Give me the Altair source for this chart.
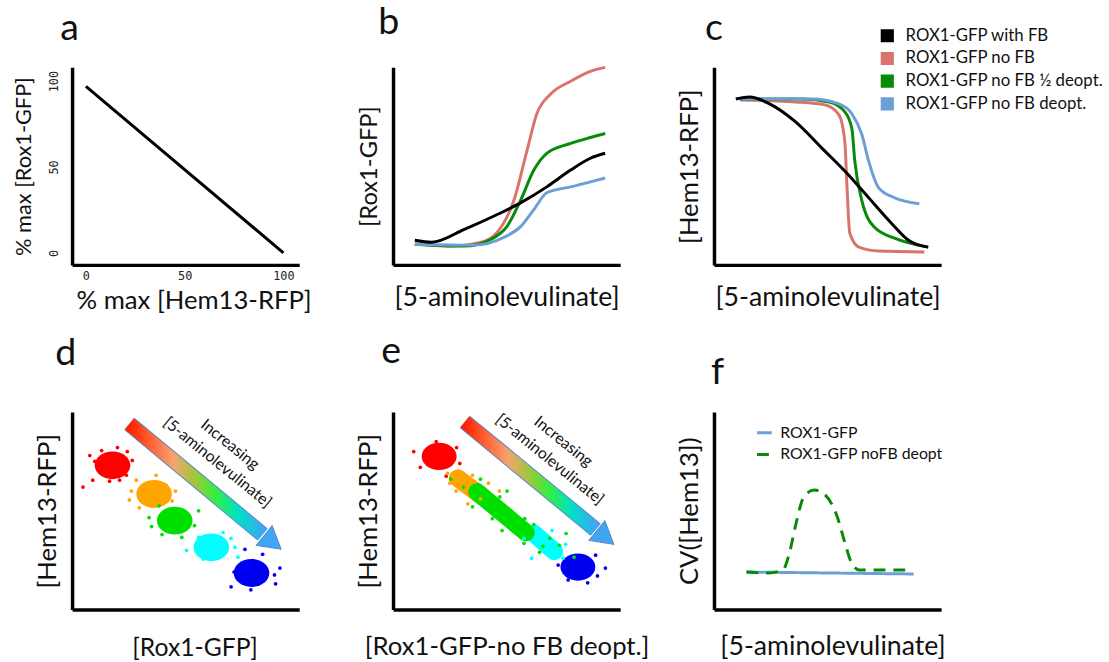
import altair as alt
import pandas as pd

FONT = "Lato"

# ---------------- panel a ----------------
a_x = [0, 100]
a_y = [97, 0]
a_ticks = [0, 50, 100]

# ---------------- panels b, c ----------------
series_names = ["ROX1-GFP with FB", "ROX1-GFP no FB", "ROX1-GFP no FB ½ deopt.", "ROX1-GFP no FB deopt."]
series_colors = ["#000000", "#d9736b", "#078a07", "#6b9fd6"]

b_red_x = [9.6, 24, 38.9, 45.9, 53.3, 59, 63.3, 69.4, 78.2, 86.9, 93.4]
b_red_y = [10.5, 9.5, 11.5, 16.5, 33, 58, 76.5, 86.5, 93, 98, 100]
b_green_x = [9.6, 31.4, 43.2, 50.2, 56.3, 62, 67.7, 78.2, 86.9, 93.4]
b_green_y = [10.5, 9.5, 13, 19.5, 33, 48, 56.5, 61.5, 64.5, 66.5]
b_blue_x = [9.6, 35.8, 48.9, 56.3, 62, 67.7, 78.2, 86.9, 93.4]
b_blue_y = [10.5, 10, 14, 19.5, 28, 36.5, 39.5, 42, 44]
b_black_x = [9.6, 17, 31.4, 45.9, 56.3, 67.7, 78.2, 86.9, 93.4]
b_black_y = [12.5, 11.5, 18, 25.5, 31.5, 39.5, 48, 54, 56.5]

c_red_x = [11.4, 35.8, 48.9, 55, 57.6, 58.5, 59.8, 63.8, 72.5, 92.6]
c_red_y = [83.5, 82.5, 81, 76, 62.5, 41, 16, 9, 7, 6.5]
c_green_x = [11.4, 38.9, 50.7, 57.6, 60.7, 62, 65.1, 70.7, 79.5, 94.3]
c_green_y = [84, 84, 82.5, 77.5, 69, 52.5, 32.5, 19, 13.5, 9]
c_blue_x = [11.4, 43.2, 55, 60.7, 65.1, 68.1, 72.5, 79.5, 90.4]
c_blue_y = [84, 84, 81.5, 76.5, 66, 52.5, 39, 34, 31]
c_black_x = [9.6, 15.7, 24.5, 35.8, 47.6, 57.6, 68.1, 78.2, 85.6, 94.3]
c_black_y = [84, 85, 81.5, 72.5, 59, 47.5, 34, 21, 12.5, 9]

# ---------------- panels d, e ----------------
levels = ["L1", "L2", "L3", "L4", "L5"]
level_colors = ["#ff0000", "#ffa500", "#00e000", "#00ffff", "#0000f0"]

d_core_x = [17.8, 36.1, 45.2, 61.3, 79.0]
d_core_y = [73, 58.5, 45, 31.5, 18.5]

d_dots = {
    "L1": ([7.8, 10, 20.9, 9.1, 4.8, 26.5, 24.3, 23.9, 16.5, 13, 20],
           [78, 75, 65.5, 65.5, 62, 75.5, 80, 68, 65, 80.5, 82]),
    "L2": ([28.3, 25.2, 41.3, 37, 26.1, 29.6, 35.2, 45.5, 44],
           [65.5, 55.5, 63, 68, 60, 51.5, 52.5, 60, 55]),
    "L3": ([39.6, 55.7, 33.9, 53.9, 38.3, 48.3, 35],
           [38, 50, 46.5, 42.5, 52.5, 36.5, 42]),
    "L4": ([50.4, 55.7, 73, 71.7, 57.8, 66.5, 70],
           [30, 36.5, 26.5, 31.5, 25.5, 39, 36]),
    "L5": ([89.6, 70, 78.7, 76.1, 89.1, 83.9, 71.3, 91.5],
           [13, 11.5, 10, 30.5, 17.5, 28, 19, 21]),
}

e_round_levels = ["L1", "L5"]
e_round_x = [20.3, 81.4]
e_round_y = [77.5, 21.5]
# elongated clouds: start/end of dense core
e_band_levels = ["L2", "L4", "L3"]
e_band_x0 = [28.5, 62.0, 37.0]
e_band_y0 = [66.5, 38.5, 59.5]
e_band_x1 = [39.5, 71.0, 58.5]
e_band_y1 = [57.0, 29.5, 39.0]

e_dots = {
    "L1": ([9.1, 19, 29.4, 23.4, 12, 28], [80, 85, 74, 67.5, 72, 82]),
    "L2": ([32.9, 27.7, 46.8, 38.5, 25, 42, 24, 35], [53.5, 60, 60, 56, 64, 64, 69, 68]),
    "L4": ([61, 74.9, 57.6, 70, 68, 76], [26, 26, 36, 40, 30, 33]),
    "L5": ([93.5, 85.7, 77.1, 89.2, 72.7, 90], [21, 13.5, 15, 27.5, 22.5, 17]),
    "L3": ([25.5, 38.5, 50.2, 43.7, 57.6, 64.5, 76.2, 79.7, 73.2, 40.3, 45, 52, 55, 60, 48, 66, 35, 58,
            31, 62, 69, 47],
           [66, 66, 60, 46, 33.5, 29, 38.5, 26.5, 32.5, 61, 55, 50, 44, 40, 40, 32, 52, 46,
            62, 43, 36, 57]),
}

# arrow annotation (data units of panels d / e)
d_arrow_x = [25.2, 83.9]
d_arrow_y = [94, 38]
d_head = (88.3, 34)
e_arrow_x = [31.6, 89.2]
e_arrow_y = [95, 40.5]
e_head = (93.5, 36.5)
arrow_texts = ["Increasing", "[5-aminolevulinate]"]
d_text_x = [69.5, 64.0]
d_text_y = [83.5, 74.5]
e_text_x = [75.0, 69.0]
e_text_y = [85, 76]

# ---------------- panel f ----------------
f_names = ["ROX1-GFP", "ROX1-GFP noFB deopt"]
f_colors = ["#6b9fd6", "#078a07"]
f_blue_x = [14.3, 87.9]
f_blue_y = [19, 18]
f_green_x = [14.3, 23.8, 30.3, 33.3, 35.9, 39.8, 44.2, 48.5, 54.1, 57.6, 60.6, 64.1, 85.7]
f_green_y = [19, 18.5, 20, 29, 42.5, 57.5, 60.5, 58.5, 47.5, 34, 23.5, 20, 20]

# ======================================================================
W, H = 230, 200
ELLIPSE = "M -1 0 A 1 0.78 0 1 1 1 0 A 1 0.78 0 1 1 -1 0 Z"


def letter(t, dx, off=20):
    return alt.TitleParams(text=t, anchor="start", frame="group", fontSize=38, font=FONT,
                           fontWeight="normal", dx=dx, offset=off, color="#111")


def noaxis(title, pad, fs, tx=None):
    kw = {}
    if tx is not None:
        kw["titleX"] = tx
    return alt.Axis(title=title, labels=False, ticks=False, grid=False, titlePadding=pad,
                    titleFontSize=fs, **kw)


def sc(dom):
    return alt.Scale(domain=dom, nice=False, zero=False)


# ---- a
df_a = pd.DataFrame({"x": a_x, "y": a_y})
panel_a = alt.Chart(df_a).mark_line(color="black", strokeWidth=3).encode(
    x=alt.X("x:Q", scale=sc([-7, 108]),
            axis=alt.Axis(title="% max [Hem13-RFP]", values=a_ticks, ticks=False, grid=False,
                          labelFont="DejaVu Sans Mono", labelFontSize=12, labelPadding=6,
                          titlePadding=6, titleFontSize=26, titleX=W / 2 + 8)),
    y=alt.Y("y:Q", scale=sc([-7, 108]),
            axis=alt.Axis(title="% max [Rox1-GFP]", values=a_ticks, ticks=False, grid=False,
                          labelFont="DejaVu Sans Mono", labelFontSize=12, labelPadding=12,
                          labelAngle=270, titlePadding=12, titleFontSize=22)),
).properties(width=W, height=H, title=letter("a", -12))


def series_df(sets):
    rows = []
    for name, xs, ys in sets:
        for i, (x, y) in enumerate(zip(xs, ys)):
            rows.append({"series": name, "x": x, "y": y, "i": i})
    return pd.DataFrame(rows)


df_b = series_df([
    (series_names[1], b_red_x, b_red_y),
    (series_names[2], b_green_x, b_green_y),
    (series_names[3], b_blue_x, b_blue_y),
    (series_names[0], b_black_x, b_black_y),
])
df_c = series_df([
    (series_names[1], c_red_x, c_red_y),
    (series_names[2], c_green_x, c_green_y),
    (series_names[3], c_blue_x, c_blue_y),
    (series_names[0], c_black_x, c_black_y),
])

panel_b = alt.Chart(df_b).mark_line(strokeWidth=3, interpolate="monotone").encode(
    x=alt.X("x:Q", scale=sc([0, 100]), axis=noaxis("[5-aminolevulinate]", 20, 27)),
    y=alt.Y("y:Q", scale=sc([0, 100]), axis=noaxis("[Rox1-GFP]", 12, 24)),
    color=alt.Color("series:N", scale=alt.Scale(domain=series_names, range=series_colors), legend=None),
    order="i:Q",
).properties(width=W, height=H, title=letter("b", -15))

panel_c = alt.Chart(df_c).mark_line(strokeWidth=3, interpolate="monotone").encode(
    x=alt.X("x:Q", scale=sc([0, 100]), axis=noaxis("[5-aminolevulinate]", 20, 27)),
    y=alt.Y("y:Q", scale=sc([0, 100]), axis=noaxis("[Hem13-RFP]", 12, 26)),
    color=alt.Color("series:N", scale=alt.Scale(domain=series_names, range=series_colors),
                    legend=alt.Legend(orient="none", legendX=167, legendY=-41, title=None,
                                      symbolType="square", symbolSize=40, symbolStrokeWidth=7,
                                      labelFontSize=17, labelFont=FONT, labelColor="#111",
                                      labelOffset=10, rowPadding=5, labelLimit=400,
                                      clipHeight=18)),
    order="i:Q",
).properties(width=W, height=H, title=letter("c", -9, -21))


# ---- d / e helpers
def dots_df(dots):
    rows = []
    for lv, (xs, ys) in dots.items():
        for x, y in zip(xs, ys):
            rows.append({"level": lv, "x": x, "y": y})
    return pd.DataFrame(rows)


color_lv = alt.Color("level:N", scale=alt.Scale(domain=levels, range=level_colors), legend=None)
GRAD = alt.Gradient(
    gradient="linear", x1=0, y1=0, x2=1, y2=0,
    stops=[alt.GradientStop(color="#ff2200", offset=0),
           alt.GradientStop(color="#ff6a3a", offset=0.18),
           alt.GradientStop(color="#f4a46e", offset=0.33),
           alt.GradientStop(color="#9cc83c", offset=0.5),
           alt.GradientStop(color="#33ee44", offset=0.65),
           alt.GradientStop(color="#00e0c8", offset=0.82),
           alt.GradientStop(color="#3ea6f2", offset=1)])


def arrow_layers(ax, ay, head, tx, ty, X, Y):
    df_ar = pd.DataFrame({"x": ax, "y": ay})
    outline = alt.Chart(df_ar).mark_line(color="#5b86c9", strokeWidth=16, strokeCap="butt").encode(x=X, y=Y)
    body = alt.Chart(df_ar).mark_line(stroke=GRAD, strokeWidth=14, strokeCap="butt").encode(x=X, y=Y)
    df_h = pd.DataFrame({"x": [head[0]], "y": [head[1]]})
    hd = alt.Chart(df_h).mark_point(shape="triangle-right", filled=True, size=650, angle=39,
                                    color="#3ea6f2", opacity=1, stroke="#5b86c9", strokeWidth=1).encode(x=X, y=Y)
    df_t = pd.DataFrame({"x": tx, "y": ty, "t": arrow_texts})
    txt = alt.Chart(df_t).mark_text(angle=39, font=FONT, fontSize=16, color="#111").encode(x=X, y=Y, text="t:N")
    return [outline, body, hd, txt]


Xd = alt.X("x:Q", scale=sc([0, 100]), axis=noaxis("[Rox1-GFP]", 27, 25, W / 2 + 9))
Yd = alt.Y("y:Q", scale=sc([0, 100]), axis=noaxis("[Hem13-RFP]", 12, 26))

df_dcore = pd.DataFrame({"level": levels, "x": d_core_x, "y": d_core_y})
d_core = alt.Chart(df_dcore).mark_point(shape=ELLIPSE, filled=True, size=1300, opacity=1).encode(
    x=Xd, y=Yd, color=color_lv)
d_dot = alt.Chart(dots_df(d_dots)).mark_circle(size=14, opacity=1).encode(x=Xd, y=Yd, color=color_lv)
panel_d = alt.layer(*arrow_layers(d_arrow_x, d_arrow_y, d_head, d_text_x, d_text_y, Xd, Yd),
                    d_core, d_dot).properties(width=W, height=H, title=letter("d", -17))

Xe = alt.X("x:Q", scale=sc([0, 100]), axis=noaxis("[Rox1-GFP-no FB deopt.]", 25, 26))
Ye = alt.Y("y:Q", scale=sc([0, 100]), axis=noaxis("[Hem13-RFP]", 12, 26))
df_eround = pd.DataFrame({"level": e_round_levels, "x": e_round_x, "y": e_round_y})
e_round = alt.Chart(df_eround).mark_point(shape=ELLIPSE, filled=True, size=1250, opacity=1).encode(
    x=Xe, y=Ye, color=color_lv)
band_rows = []
for k, lv in enumerate(e_band_levels):
    band_rows.append({"level": lv, "x": e_band_x0[k], "y": e_band_y0[k], "k": k * 2})
    band_rows.append({"level": lv, "x": e_band_x1[k], "y": e_band_y1[k], "k": k * 2 + 1})
e_band = alt.Chart(pd.DataFrame(band_rows)).mark_line(strokeWidth=18, strokeCap="round", opacity=1).encode(
    x=Xe, y=Ye, color=color_lv, detail="level:N", order="k:Q")
e_dot = alt.Chart(dots_df(e_dots)).mark_circle(size=14, opacity=1).encode(x=Xe, y=Ye, color=color_lv)
panel_e = alt.layer(*arrow_layers(e_arrow_x, e_arrow_y, e_head, e_text_x, e_text_y, Xe, Ye),
                    e_round, e_band, e_dot).properties(width=W, height=H, title=letter("e", -12))

# ---- f
df_f = series_df([(f_names[0], f_blue_x, f_blue_y), (f_names[1], f_green_x, f_green_y)])
f_legend = alt.Legend(orient="none", legendX=42, legendY=12, title=None, symbolType="stroke",
                      symbolSize=220, symbolStrokeWidth=3, labelFontSize=16, labelFont=FONT,
                      labelColor="#111", labelOffset=7, rowPadding=5, labelLimit=400)
panel_f = alt.Chart(df_f).mark_line(strokeWidth=3, interpolate="monotone").encode(
    x=alt.X("x:Q", scale=sc([0, 100]), axis=noaxis("[5-aminolevulinate]", 25, 27, W / 2 + 5)),
    y=alt.Y("y:Q", scale=sc([0, 100]), axis=noaxis("CV([Hem13])", 12, 26)),
    color=alt.Color("series:N", scale=alt.Scale(domain=f_names, range=f_colors), legend=f_legend),
    strokeDash=alt.StrokeDash("series:N", scale=alt.Scale(domain=f_names, range=[[1, 0], [12, 8]]),
                              legend=f_legend),
    order="i:Q",
).properties(width=W, height=H, title=letter("f", -3))

chart = alt.concat(panel_a, panel_b, panel_c, panel_d, panel_e, panel_f, columns=3,
                   spacing={"row": 149, "column": 95}, bounds="flush").resolve_scale(
    color="independent", strokeDash="independent", x="independent", y="independent"
).configure(font=FONT).configure_view(stroke=None).configure_axis(
    domainColor="black", domainWidth=3.5, titleFont=FONT, titleFontSize=24,
    titleFontWeight="normal", titleColor="#111", labelColor="#222"
).properties(padding={"left": 13, "top": 0, "right": 5, "bottom": 5})

chart.save("out.html", embed_options={"renderer": "svg", "actions": False})
